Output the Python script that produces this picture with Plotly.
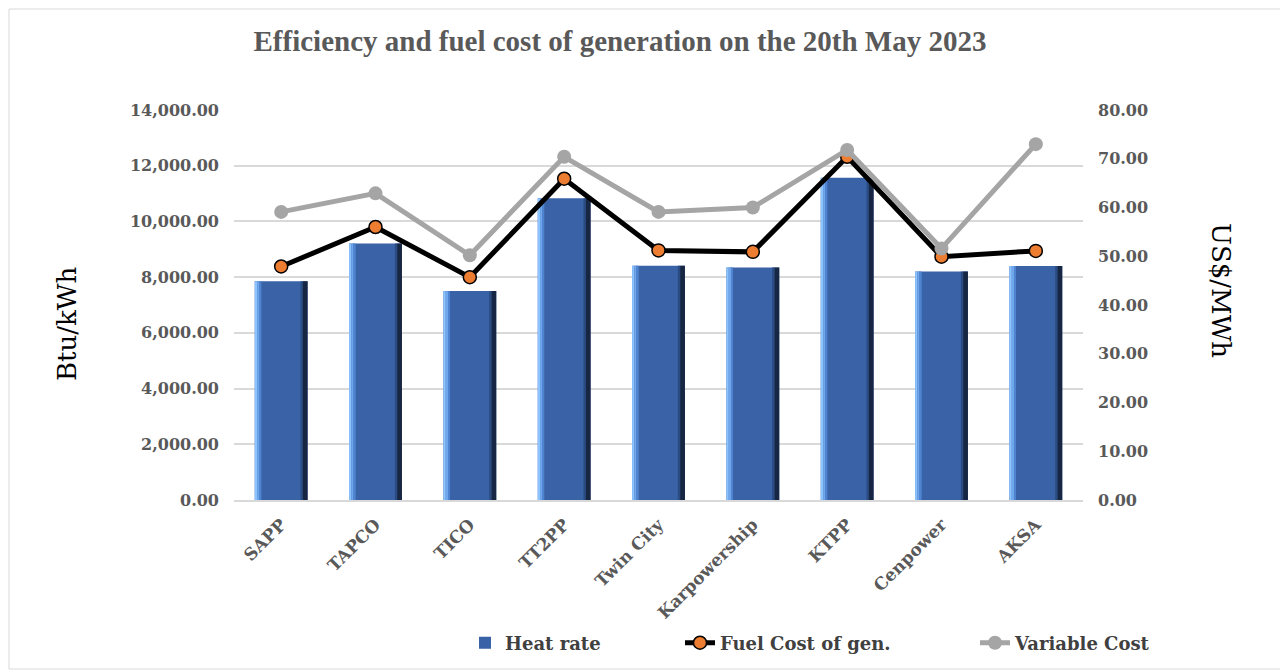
import plotly.graph_objects as go

categories = ["SAPP", "TAPCO", "TICO", "TT2PP", "Twin City", "Karpowership", "KTPP", "Cenpower", "AKSA"]
heat_rate = [7850, 9210, 7500, 10830, 8410, 8350, 11570, 8200, 8400]
fuel_cost = [47.9, 56.0, 45.7, 65.9, 51.2, 50.9, 70.4, 49.9, 51.1]
variable_cost = [59.1, 62.9, 50.2, 70.4, 59.1, 60.0, 71.8, 51.6, 73.0]
left_ticks = [0, 2000, 4000, 6000, 8000, 10000, 12000, 14000]
right_ticks = [0, 10, 20, 30, 40, 50, 60, 70, 80]

# page offset of the figure div (body margin)
OFF = 8
PAGE_W, PAGE_H = 1288, 671
W, H = PAGE_W - OFF, PAGE_H - OFF
# plot area in page pixels
PX0, PX1, PY0, PY1 = 234, 1083, 110, 500
ML, MT = PX0 - OFF, PY0 - OFF
MR, MB = W - (PX1 - OFF), H - (PY1 - OFF)
PW, PH = PX1 - PX0, PY1 - PY0

SERIF = "Liberation Serif"
TXT = "#595959"
TICKFONT = dict(family="DejaVu Serif", size=16, color=TXT, weight="bold")
LEGFONT = dict(family="DejaVu Serif", size=18, color="#404040", weight="bold")

def pxx(px):  # page px -> paper x
    return (px - PX0) / PW

def pxy(py):  # page py -> paper y
    return (PY1 - py) / PH

def cx(px):  # page px -> container x
    return (px - OFF) / W

def cy(py):  # page py -> container y
    return 1 - (py - OFF) / H

fig = go.Figure()

BW = 0.56
fig.add_trace(go.Bar(x=categories, y=heat_rate, name="Heat rate", width=BW, offset=-BW / 2,
                     marker=dict(color="#3A62A6", line=dict(width=0)), yaxis="y", legend="legend"))
strips = [(-BW / 2, 0.025, "#8CC4FF"), (-BW / 2 + 0.025, 0.025, "#6FA6EC"), (-BW / 2 + 0.05, 0.02, "#4F84D0"),
          (BW / 2 - 0.075, 0.025, "#2A4C82"), (BW / 2 - 0.05, 0.05, "#172642")]
for off, w, c in strips:
    fig.add_trace(go.Bar(x=categories, y=heat_rate, width=w, offset=off, showlegend=False,
                         marker=dict(color=c, line=dict(width=0)), yaxis="y", hoverinfo="skip"))

fig.add_trace(go.Scatter(x=categories, y=fuel_cost, name="Fuel Cost of gen.", yaxis="y2",
                         mode="lines+markers", legend="legend2",
                         line=dict(color="black", width=5),
                         marker=dict(color="#ED7D31", size=13, line=dict(color="black", width=1.5))))
fig.add_trace(go.Scatter(x=categories, y=variable_cost, name="Variable Cost", yaxis="y2",
                         mode="lines+markers", legend="legend3",
                         line=dict(color="#A5A5A5", width=5),
                         marker=dict(color="#A5A5A5", size=14)))

def leg(text_start_px):
    return dict(orientation="h", xref="container", yref="container",
                x=cx(text_start_px - 42), xanchor="left", y=cy(643), yanchor="middle",
                font=LEGFONT, bgcolor="rgba(0,0,0,0)")

fig.update_layout(
    width=W, height=H, autosize=False,
    margin=dict(l=ML, r=MR, t=MT, b=MB, autoexpand=False),
    paper_bgcolor="white", plot_bgcolor="white",
    barmode="overlay",
    title=dict(text="<b>Efficiency and fuel cost of generation on the 20th May 2023</b>",
               xref="container", yref="container",
               x=cx(620), xanchor="center", y=cy(41), yanchor="middle",
               font=dict(family=SERIF, size=29, color=TXT)),
    xaxis=dict(tickangle=-45, tickfont=dict(family="DejaVu Serif", size=17, color=TXT, weight="bold"),
               showline=True, linecolor="#D9D9D9", linewidth=2, showgrid=False,
               range=[-0.5, len(categories) - 0.5], automargin=False,
               ticks="", ticklabelstandoff=6),
    yaxis=dict(range=[0, 14000], tickvals=left_ticks, tickformat=",.2f", automargin=False,
               tickfont=TICKFONT, showgrid=True, gridcolor="#D9D9D9", gridwidth=1.5,
               zeroline=False, ticklabelstandoff=14),
    yaxis2=dict(range=[0, 80], tickvals=right_ticks, tickformat=".2f", overlaying="y", side="right",
                automargin=False,
                tickfont=TICKFONT, showgrid=False, zeroline=False, ticklabelstandoff=14),
    legend=leg(507),
    legend2=leg(722),
    legend3=leg(1017),
    showlegend=True,
)

fig.add_annotation(text="Btu/kWh", xref="paper", yref="paper",
                   x=pxx(50), y=pxy(324), textangle=-90, showarrow=False,
                   font=dict(family="DejaVu Serif", size=26, color="black"))
fig.add_annotation(text="US$/MWh", xref="paper", yref="paper",
                   x=pxx(1238), y=pxy(290), textangle=90, showarrow=False,
                   font=dict(family="DejaVu Serif", size=26, color="black"))

fig.add_shape(type="rect", xref="paper", yref="paper",
              x0=pxx(OFF + 1), x1=pxx(PAGE_W - 2), y0=pxy(PAGE_H - 2), y1=pxy(OFF + 1),
              line=dict(color="#D9D9D9", width=1), layer="below")

fig.write_html("out.html")
